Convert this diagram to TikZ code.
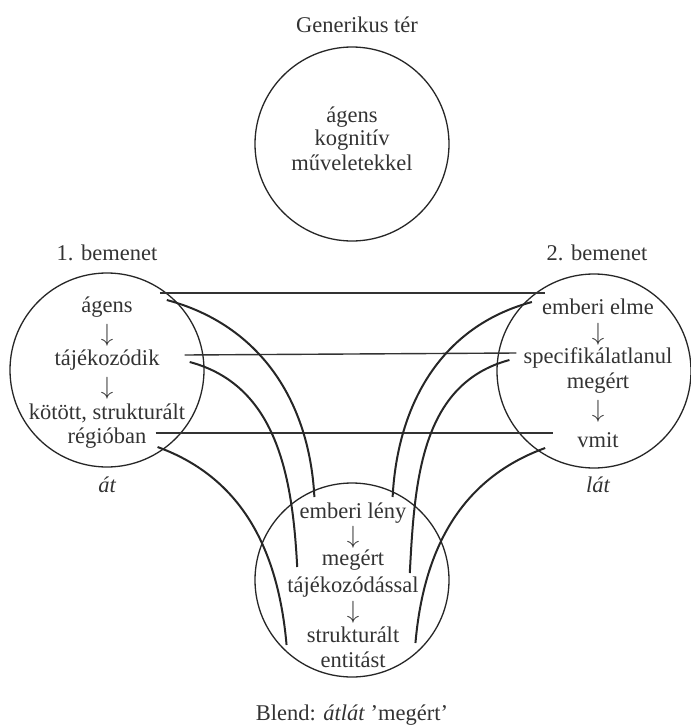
\documentclass[tikz,border=0pt]{standalone}
\usepackage{fontspec}
\setmainfont{Liberation Serif}
\usetikzlibrary{calc}

\begin{document}
\begin{tikzpicture}[x=1pt,y=1pt,
 space/.style={draw=black!85,circle,line width=1.3pt,minimum size=194pt,inner sep=0pt},
 lbl/.style={inner sep=0pt,text=black!80,font=\fontsize{22.5}{26}\selectfont},
 dn/.style={lbl,font=\fontsize{23}{24}\selectfont,text height=8pt,text depth=0pt},
 map/.style={line width=1.4pt,black!80},
 link/.style={line width=2pt,black!85}]
 \useasboundingbox (0,0) rectangle (691,-726);
 % circles
 \node[space] (gen) at (352,-144) {};
 \node[space] (inp1) at (107,-370) {};
 \node[space] (inp2) at (594,-371) {};
 \node[space] (blend) at (352,-580) {};
 % titles
 \node[lbl] (tgen) at (357,-25) {Generikus tér};
 \node[lbl] (tinp1) at (107,-253) {1. bemenet};
 \node[lbl] (tinp2) at (597,-253) {2. bemenet};
 \node[lbl] (tat) at (107,-485) {\itshape át};
 \node[lbl] (tlat) at (598,-485) {\itshape lát};
 \node[lbl] (tblend) at (352,-715) {Blend: \textit{átlát} ’megért’};
 % generic space
 \node[lbl] (gag) at (352,-117) {ágens};
 \node[lbl] (gkog) at (352,-140) {kognitív};
 \node[lbl] (gmuv) at (352,-163) {műveletekkel};
 % input 1
 \node[lbl] (lag) at (107,-307) {ágens};
 \node[dn] (la1) at (107,-337) {$\downarrow$};
 \node[lbl] (ltaj) at (107,-360) {tájékozódik};
 \node[dn] (la2) at (107,-390) {$\downarrow$};
 \node[lbl] (lkot) at (107,-413) {kötött, strukturált};
 \node[lbl] (lreg) at (107,-438) {régióban};
 % input 2
 \node[lbl] (rem) at (598,-307) {emberi elme};
 \node[dn] (ra1) at (598,-336) {$\downarrow$};
 \node[lbl] (rspec) at (598,-358) {specifikálatlanul};
 \node[lbl] (rmeg) at (598,-383) {megért};
 \node[dn] (ra2) at (598,-413) {$\downarrow$};
 \node[lbl] (rvmit) at (598,-440) {vmit};
 % blend
 \node[lbl] (bem) at (353,-513) {emberi lény};
 \node[dn] (ba1) at (353,-539) {$\downarrow$};
 \node[lbl] (bmeg) at (353,-560) {megért};
 \node[lbl] (btaj) at (353,-587) {tájékozódással};
 \node[dn] (ba2) at (353,-614) {$\downarrow$};
 \node[lbl] (bstr) at (353,-635) {strukturált};
 \node[lbl] (bent) at (353,-660) {entitást};
 % cross-space mappings
 \draw[map] ($(lag.east)+(27,14)$) -- ($(rem.west)+(3,14)$);
 \draw[map] ($(ltaj.east)+(25,5)$) -- ($(rspec.west)+(-7,5)$);
 \draw[map] ($(lreg.east)+(9,5)$) -- ($(rvmit.west)+(-24,7)$);
 % projections to the blend
 \draw[link] ($(lag.east)+(34,7)$) to[out=-15,in=93] ($(bem.west)+(15,16)$);
 \draw[link] ($(ltaj.east)+(30,-2)$) to[out=-15,in=93] ($(btaj.west)+(10,20)$);
 \draw[link] ($(lreg.east)+(11,-9)$) to[out=-20,in=95] ($(bstr.west)+(-20,-10)$);
 \draw[link] ($(rem.west)+(-10,5)$) to[out=195,in=87] ($(bem.east)+(-14,16)$);
 \draw[link] ($(rspec.west)+(-14,-2)$) to[out=195,in=87] ($(btaj.east)+(-9,14)$);
 \draw[link] ($(rvmit.west)+(-32,-8)$) to[out=200,in=85] ($(bstr.east)+(16,-8)$);
\end{tikzpicture}
\end{document}
